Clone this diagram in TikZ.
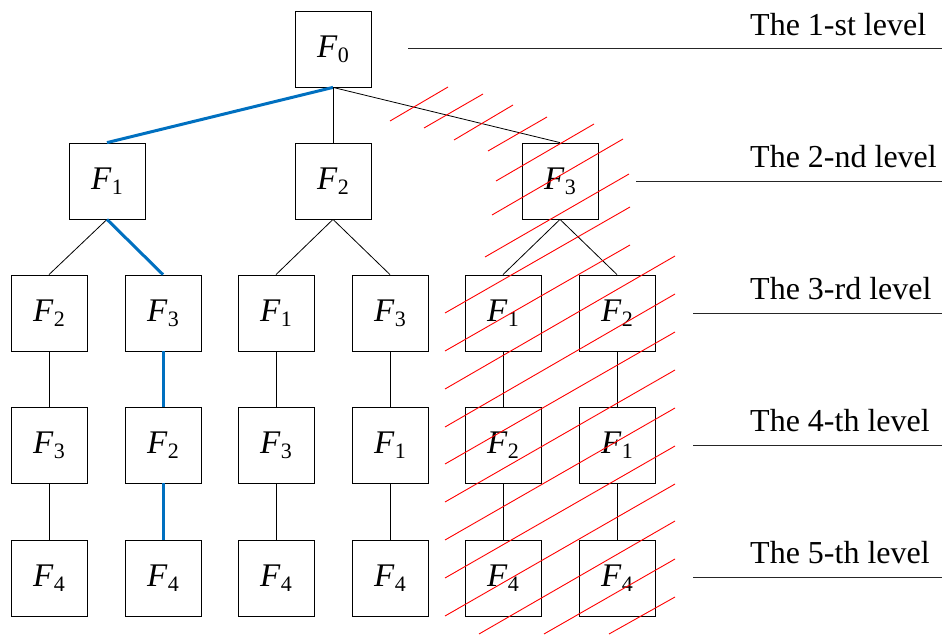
\documentclass[tikz,border=0pt]{standalone}
\usepackage{fontspec}
\setmainfont{Liberation Serif}
\definecolor{pathblue}{RGB}{0,112,192}
\newcommand{\Fsub}[1]{\textit{F}\kern0.5pt\raisebox{-5pt}{\fontsize{22}{22}\selectfont #1}}
\begin{document}
\begin{tikzpicture}[x=1pt,y=-1pt,
  box/.style={draw=black,line width=0.8pt,minimum width=76pt,minimum height=76pt,inner sep=0pt,font=\fontsize{33}{33}\selectfont},
  conn/.style={draw=black,line width=0.8pt},
  bluepath/.style={draw=pathblue,line width=3pt},
  hatch/.style={draw=red,line width=0.9pt},
  lvl/.style={anchor=base west,inner sep=0pt,font=\fontsize{32}{32}\selectfont},
  lvlline/.style={draw=black!85,line width=1pt}]
\useasboundingbox (0,0) rectangle (942,635);

% level 1
\node[box] (r0) at (333,49) {\Fsub{0}};
% level 2
\node[box] (b1) at (107,181) {\Fsub{1}};
\node[box] (b2) at (333,181) {\Fsub{2}};
\node[box] (b3) at (560,181) {\Fsub{3}};
% level 3
\node[box] (c1) at (49,313) {\Fsub{2}};
\node[box] (c2) at (163,313) {\Fsub{3}};
\node[box] (c3) at (276,313) {\Fsub{1}};
\node[box] (c4) at (390,313) {\Fsub{3}};
\node[box] (c5) at (503,313) {\Fsub{1}};
\node[box] (c6) at (617,313) {\Fsub{2}};
% level 4
\node[box] (d1) at (49,445) {\Fsub{3}};
\node[box] (d2) at (163,445) {\Fsub{2}};
\node[box] (d3) at (276,445) {\Fsub{3}};
\node[box] (d4) at (390,445) {\Fsub{1}};
\node[box] (d5) at (503,445) {\Fsub{2}};
\node[box] (d6) at (617,445) {\Fsub{1}};
% level 5
\node[box] (e1) at (49,578) {\Fsub{4}};
\node[box] (e2) at (163,578) {\Fsub{4}};
\node[box] (e3) at (276,578) {\Fsub{4}};
\node[box] (e4) at (390,578) {\Fsub{4}};
\node[box] (e5) at (503,578) {\Fsub{4}};
\node[box] (e6) at (617,578) {\Fsub{4}};

% connectors
\draw[bluepath] (r0.south) -- (b1.north);
\draw[conn] (r0.south) -- (b2.north);
\draw[conn] (r0.south) -- (b3.north);
\draw[conn] (b1.south) -- (c1.north);
\draw[bluepath] (b1.south) -- (c2.north);
\draw[conn] (b2.south) -- (c3.north);
\draw[conn] (b2.south) -- (c4.north);
\draw[conn] (b3.south) -- (c5.north);
\draw[conn] (b3.south) -- (c6.north);
\draw[conn] (c1.south) -- (d1.north);
\draw[bluepath] (c2.south) -- (d2.north);
\draw[conn] (c3.south) -- (d3.north);
\draw[conn] (c4.south) -- (d4.north);
\draw[conn] (c5.south) -- (d5.north);
\draw[conn] (c6.south) -- (d6.north);
\draw[conn] (d1.south) -- (e1.north);
\draw[bluepath] (d2.south) -- (e2.north);
\draw[conn] (d3.south) -- (e3.north);
\draw[conn] (d4.south) -- (e4.north);
\draw[conn] (d5.south) -- (e5.north);
\draw[conn] (d6.south) -- (e6.north);

% level labels
\node[lvl] (l1) at (750,35) {The 1-st level};
\node[lvl] (l2) at (750,167) {The 2-nd level};
\node[lvl] (l3) at (750,299) {The 3-rd level};
\node[lvl] (l4) at (750,431) {The 4-th level};
\node[lvl] (l5) at (750,563) {The 5-th level};
\draw[lvlline] (408,48) -- (942,48);
\draw[lvlline] (636,181) -- (942,181);
\draw[lvlline] (693,313) -- (942,313);
\draw[lvlline] (693,445) -- (942,445);
\draw[lvlline] (693,577) -- (942,577);

% hatching
\foreach \ax/\ay/\bx/\by in {
  390/121/448/87, 424/128/483/94, 454/140/513/105, 488/151/547/117,
  496/181/594/124, 492/215/623/139, 485/257/629/174, 445/313/630/207,
  445/351/630/245, 445/389/675/256, 445/427/675/294, 445/464/675/332,
  445/502/675/370, 445/540/675/408, 445/578/675/446, 445/616/675/484,
  479/634/675/521, 544/634/675/559, 609/634/675/597}
  \draw[hatch] (\ax,\ay) -- (\bx,\by);
\end{tikzpicture}
\end{document}
